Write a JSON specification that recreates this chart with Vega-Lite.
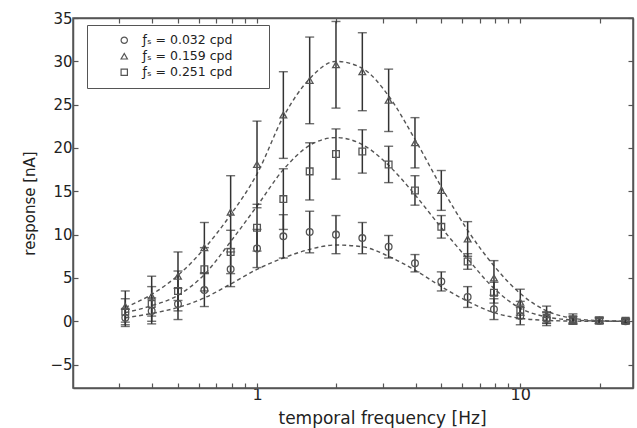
{
  "$schema": "https://vega.github.io/schema/vega-lite/v6.json",
  "width": 560,
  "height": 370,
  "autosize": {"type": "none"},
  "padding": {"left": 73, "top": 18, "right": 4, "bottom": 40},
  "background": "white",
  "config": {
    "font": "DejaVu Sans",
    "view": {"stroke": "#555", "strokeWidth": 1.5},
    "axis": {
      "grid": false,
      "domainColor": "#555",
      "domainWidth": 1.5,
      "tickColor": "#555",
      "tickWidth": 1.2,
      "tickSize": -5,
      "labelColor": "#222",
      "titleColor": "#222",
      "labelFont": "DejaVu Sans",
      "titleFont": "DejaVu Sans",
      "labelFontSize": 15,
      "titleFontSize": 15,
      "titleFontWeight": "normal"
    }
  },
  "datasets": {
    "pts": [
      {"f": 0.316, "s": "0.032", "y": 0.4, "e": 1.0},
      {"f": 0.398, "s": "0.032", "y": 1.2, "e": 1.5},
      {"f": 0.501, "s": "0.032", "y": 2.0, "e": 1.8},
      {"f": 0.631, "s": "0.032", "y": 3.6, "e": 1.9},
      {"f": 0.794, "s": "0.032", "y": 6.0, "e": 2.0},
      {"f": 1.0, "s": "0.032", "y": 8.4, "e": 2.2},
      {"f": 1.259, "s": "0.032", "y": 9.8, "e": 2.5},
      {"f": 1.585, "s": "0.032", "y": 10.3, "e": 2.4},
      {"f": 1.995, "s": "0.032", "y": 10.0, "e": 2.2},
      {"f": 2.512, "s": "0.032", "y": 9.6, "e": 1.8},
      {"f": 3.162, "s": "0.032", "y": 8.6, "e": 1.3},
      {"f": 3.981, "s": "0.032", "y": 6.7, "e": 1.0},
      {"f": 5.012, "s": "0.032", "y": 4.6, "e": 1.1},
      {"f": 6.31, "s": "0.032", "y": 2.8, "e": 1.2},
      {"f": 7.943, "s": "0.032", "y": 1.4, "e": 1.2},
      {"f": 10.0, "s": "0.032", "y": 0.6, "e": 1.0},
      {"f": 12.59, "s": "0.032", "y": 0.3, "e": 0.8},
      {"f": 15.85, "s": "0.032", "y": 0.1, "e": 0.4},
      {"f": 19.95, "s": "0.032", "y": 0.05, "e": 0.3},
      {"f": 25.12, "s": "0.032", "y": 0.0, "e": 0.2},
      {"f": 0.316, "s": "0.159", "y": 1.7, "e": 1.8},
      {"f": 0.398, "s": "0.159", "y": 2.9, "e": 2.3},
      {"f": 0.501, "s": "0.159", "y": 5.2, "e": 2.8},
      {"f": 0.631, "s": "0.159", "y": 8.5, "e": 2.9},
      {"f": 0.794, "s": "0.159", "y": 12.6, "e": 4.2},
      {"f": 1.0, "s": "0.159", "y": 18.1, "e": 5.0},
      {"f": 1.259, "s": "0.159", "y": 23.8, "e": 5.0},
      {"f": 1.585, "s": "0.159", "y": 27.8, "e": 5.0},
      {"f": 1.995, "s": "0.159", "y": 29.6, "e": 5.0},
      {"f": 2.512, "s": "0.159", "y": 28.8, "e": 4.5},
      {"f": 3.162, "s": "0.159", "y": 25.5, "e": 3.6},
      {"f": 3.981, "s": "0.159", "y": 20.6, "e": 2.9},
      {"f": 5.012, "s": "0.159", "y": 15.1, "e": 2.3},
      {"f": 6.31, "s": "0.159", "y": 9.5, "e": 2.0},
      {"f": 7.943, "s": "0.159", "y": 5.0, "e": 2.0},
      {"f": 10.0, "s": "0.159", "y": 2.2, "e": 1.5},
      {"f": 12.59, "s": "0.159", "y": 0.75, "e": 1.0},
      {"f": 15.85, "s": "0.159", "y": 0.25, "e": 0.6},
      {"f": 19.95, "s": "0.159", "y": 0.1, "e": 0.4},
      {"f": 25.12, "s": "0.159", "y": 0.05, "e": 0.3},
      {"f": 0.316, "s": "0.251", "y": 1.1, "e": 1.5},
      {"f": 0.398, "s": "0.251", "y": 2.0, "e": 2.0},
      {"f": 0.501, "s": "0.251", "y": 3.5, "e": 2.3},
      {"f": 0.631, "s": "0.251", "y": 6.0, "e": 2.5},
      {"f": 0.794, "s": "0.251", "y": 8.0, "e": 2.5},
      {"f": 1.0, "s": "0.251", "y": 10.8, "e": 2.7},
      {"f": 1.259, "s": "0.251", "y": 14.1, "e": 3.5},
      {"f": 1.585, "s": "0.251", "y": 17.3, "e": 3.3},
      {"f": 1.995, "s": "0.251", "y": 19.3, "e": 2.9},
      {"f": 2.512, "s": "0.251", "y": 19.6, "e": 2.5},
      {"f": 3.162, "s": "0.251", "y": 18.1, "e": 2.1},
      {"f": 3.981, "s": "0.251", "y": 15.1, "e": 1.7},
      {"f": 5.012, "s": "0.251", "y": 10.9, "e": 1.3},
      {"f": 6.31, "s": "0.251", "y": 6.9, "e": 0.9},
      {"f": 7.943, "s": "0.251", "y": 3.3, "e": 1.2},
      {"f": 10.0, "s": "0.251", "y": 1.3, "e": 1.0},
      {"f": 12.59, "s": "0.251", "y": 0.4, "e": 0.6},
      {"f": 15.85, "s": "0.251", "y": 0.2, "e": 0.4},
      {"f": 19.95, "s": "0.251", "y": 0.1, "e": 0.3},
      {"f": 25.12, "s": "0.251", "y": 0.05, "e": 0.2}
    ],
    "fit": [
      {"f": 0.316, "s": "0.032", "y": 0.4},
      {"f": 0.398, "s": "0.032", "y": 0.9},
      {"f": 0.501, "s": "0.032", "y": 1.6},
      {"f": 0.631, "s": "0.032", "y": 2.7},
      {"f": 0.794, "s": "0.032", "y": 4.3},
      {"f": 1.0, "s": "0.032", "y": 6.0},
      {"f": 1.259, "s": "0.032", "y": 7.3},
      {"f": 1.585, "s": "0.032", "y": 8.3},
      {"f": 1.995, "s": "0.032", "y": 8.8},
      {"f": 2.512, "s": "0.032", "y": 8.6},
      {"f": 3.162, "s": "0.032", "y": 7.5},
      {"f": 3.981, "s": "0.032", "y": 5.9},
      {"f": 5.012, "s": "0.032", "y": 4.0},
      {"f": 6.31, "s": "0.032", "y": 2.3},
      {"f": 7.943, "s": "0.032", "y": 1.0},
      {"f": 10.0, "s": "0.032", "y": 0.35},
      {"f": 12.59, "s": "0.032", "y": 0.1},
      {"f": 15.85, "s": "0.032", "y": 0.02},
      {"f": 19.95, "s": "0.032", "y": 0.0},
      {"f": 25.12, "s": "0.032", "y": 0.0},
      {"f": 0.316, "s": "0.159", "y": 1.6},
      {"f": 0.398, "s": "0.159", "y": 3.1},
      {"f": 0.501, "s": "0.159", "y": 5.3},
      {"f": 0.631, "s": "0.159", "y": 8.4},
      {"f": 0.794, "s": "0.159", "y": 12.3},
      {"f": 1.0, "s": "0.159", "y": 17.0},
      {"f": 1.259, "s": "0.159", "y": 23.6},
      {"f": 1.585, "s": "0.159", "y": 28.0},
      {"f": 1.995, "s": "0.159", "y": 30.0},
      {"f": 2.512, "s": "0.159", "y": 29.2},
      {"f": 3.162, "s": "0.159", "y": 26.0},
      {"f": 3.981, "s": "0.159", "y": 21.0},
      {"f": 5.012, "s": "0.159", "y": 15.5},
      {"f": 6.31, "s": "0.159", "y": 10.5},
      {"f": 7.943, "s": "0.159", "y": 6.4},
      {"f": 10.0, "s": "0.159", "y": 3.2},
      {"f": 12.59, "s": "0.159", "y": 1.2},
      {"f": 15.85, "s": "0.159", "y": 0.35},
      {"f": 19.95, "s": "0.159", "y": 0.08},
      {"f": 25.12, "s": "0.159", "y": 0.01},
      {"f": 0.316, "s": "0.251", "y": 1.0},
      {"f": 0.398, "s": "0.251", "y": 1.8},
      {"f": 0.501, "s": "0.251", "y": 3.0},
      {"f": 0.631, "s": "0.251", "y": 5.4},
      {"f": 0.794, "s": "0.251", "y": 9.2},
      {"f": 1.0, "s": "0.251", "y": 13.3},
      {"f": 1.259, "s": "0.251", "y": 17.5},
      {"f": 1.585, "s": "0.251", "y": 20.3},
      {"f": 1.995, "s": "0.251", "y": 21.2},
      {"f": 2.512, "s": "0.251", "y": 20.4},
      {"f": 3.162, "s": "0.251", "y": 18.0},
      {"f": 3.981, "s": "0.251", "y": 14.6},
      {"f": 5.012, "s": "0.251", "y": 10.8},
      {"f": 6.31, "s": "0.251", "y": 7.2},
      {"f": 7.943, "s": "0.251", "y": 3.8},
      {"f": 10.0, "s": "0.251", "y": 1.5},
      {"f": 12.59, "s": "0.251", "y": 0.5},
      {"f": 15.85, "s": "0.251", "y": 0.15},
      {"f": 19.95, "s": "0.251", "y": 0.03},
      {"f": 25.12, "s": "0.251", "y": 0.0}
    ]
  },
  "layer": [
    {
      "mark": {"type": "rule", "color": "#444", "strokeWidth": 1.3},
      "encoding": {
        "y": {"datum": 0, "type": "quantitative", "scale": {"domain": [-7.7, 35]}, "axis": null}
      }
    },
    {
      "data": {"name": "fit"},
      "mark": {"type": "line", "strokeDash": [4, 3], "color": "#555", "strokeWidth": 1.4, "interpolate": "monotone"},
      "encoding": {
        "x": {"field": "f", "type": "quantitative", "scale": {"type": "log", "domain": [0.2, 26.8]},
          "axis": {"orient": "top", "labels": false, "title": null, "values": [0.3, 0.4, 0.5, 0.6, 0.7, 0.8, 0.9, 1, 2, 3, 4, 5, 6, 7, 8, 9, 10, 20]}},
        "y": {"field": "y", "type": "quantitative", "scale": {"domain": [-7.7, 35]},
          "axis": {"orient": "right", "labels": false, "title": null, "values": [-5, 0, 5, 10, 15, 20, 25, 30, 35]}},
        "detail": {"field": "s"}
      }
    },
    {
      "data": {"name": "pts"},
      "mark": {"type": "errorbar", "ticks": {"size": 9, "thickness": 1.4}, "color": "#333", "thickness": 1.5},
      "encoding": {
        "x": {"field": "f", "type": "quantitative", "scale": {"type": "log", "domain": [0.2, 26.8]}, "axis": null},
        "y": {"field": "y", "type": "quantitative", "scale": {"domain": [-7.7, 35]}, "axis": null},
        "yError": {"field": "e"},
        "detail": {"field": "s"}
      }
    },
    {
      "data": {"name": "pts"},
      "mark": {"type": "point", "filled": false, "size": 45, "strokeWidth": 1.3, "color": "#555", "opacity": 1},
      "encoding": {
        "x": {"field": "f", "type": "quantitative", "scale": {"type": "log", "domain": [0.2, 26.8]},
          "axis": {"orient": "bottom", "values": [0.3, 0.4, 0.5, 0.6, 0.7, 0.8, 0.9, 1, 2, 3, 4, 5, 6, 7, 8, 9, 10, 20],
            "labelExpr": "datum.value == 1 ? '1' : (datum.value == 10 ? '10' : '')",
            "labelFontSize": 16, "labelPadding": 3,
            "title": "temporal frequency [Hz]", "titleFontSize": 17, "titleX": 309, "titleY": 22, "titleBaseline": "top"}},
        "y": {"field": "y", "type": "quantitative", "scale": {"domain": [-7.7, 35]},
          "axis": {"orient": "left", "values": [-5, 0, 5, 10, 15, 20, 25, 30, 35], "labelPadding": 6,
            "title": "response [nA]", "titlePadding": 12}},
        "shape": {"field": "s", "type": "nominal",
          "scale": {"domain": ["0.032", "0.159", "0.251"], "range": ["circle", "triangle-up", "square"]},
          "legend": {"orient": "none", "legendX": 14, "legendY": 7, "title": null,
            "strokeColor": "#555", "fillColor": "white", "padding": 9,
            "symbolOffset": 22, "symbolSize": 40, "symbolStrokeWidth": 1.2, "symbolStrokeColor": "#555",
            "labelFontSize": 12.5, "labelOffset": 12, "labelColor": "#222", "rowPadding": 3,
            "labelExpr": "'ƒₛ = ' + datum.label + ' cpd⠀⠀⠀'"}}
      }
    }
  ],
  "resolve": {"axis": {"x": "independent", "y": "independent"}}
}
